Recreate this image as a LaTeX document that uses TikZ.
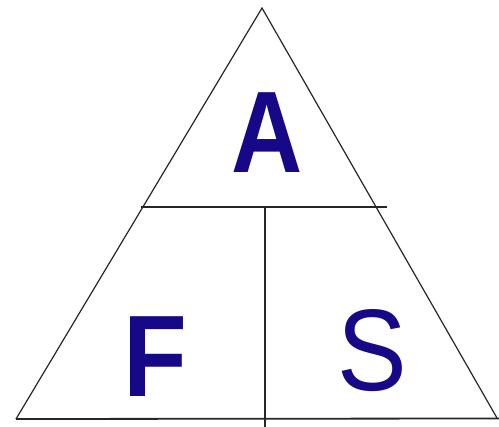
\documentclass[tikz,border=0pt]{standalone}
\usepackage{fontspec}
\setmainfont{Liberation Sans}
\definecolor{letterblue}{RGB}{22,8,135}
\begin{document}
\begin{tikzpicture}[x=1pt,y=-1pt,
  edge/.style={draw=black!85,line width=1.2pt},
  baseedge/.style={draw=black!85,line width=1.8pt},
  letter/.style={inner sep=0pt,anchor=base,text=letterblue,font=\fontsize{116}{116}\selectfont}]
\useasboundingbox (0,0) rectangle (499,427);
\coordinate (apex) at (262,8);
\coordinate (bl) at (16,419);
\coordinate (br) at (497,418);
\coordinate (bend) at (499,418.5);
\coordinate (ml) at (141,207);
\coordinate (mr) at (387,207);
\coordinate (vt) at (265,207);
\coordinate (vb) at (265,427);
\draw[edge] (bl) -- (apex) -- (br);
\draw[baseedge] (bl) -- (bend);
\draw[edge] (ml) -- (mr);
\draw[edge] (vt) -- (vb);
\node[letter] (A) at (267,173) {\scalebox{0.85}[1]{\bfseries A}};
\node[letter] (F) at (155,397) {\scalebox{0.9}[1]{\bfseries F}};
\node[letter] (S) at (372,391) {\scalebox{0.9}[1]{S}};
\end{tikzpicture}
\end{document}
